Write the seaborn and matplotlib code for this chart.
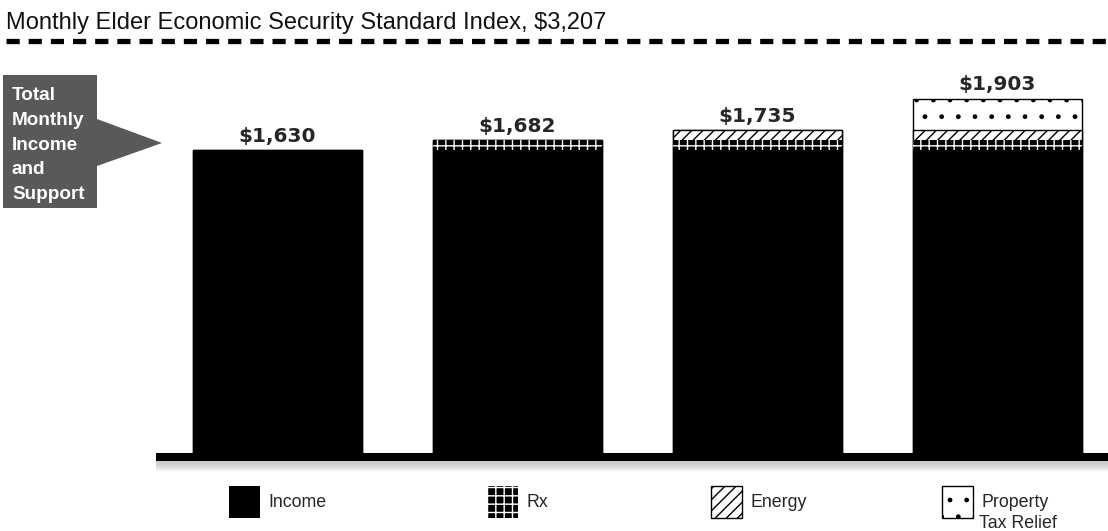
import numpy as np
import pandas as pd
import matplotlib.pyplot as plt
import matplotlib.patheffects as pe
import seaborn as sns
from matplotlib.patches import Patch, Polygon

# 데이터
scenarios = ['Income only', '+ Rx', '+ Energy', '+ Property Tax Relief']
income = [1630, 1630, 1630, 1630]
rx = [0, 52, 52, 52]
energy = [0, 0, 53, 53]
property_tax = [0, 0, 0, 168]
total_labels = ['$1,630', '$1,682', '$1,735', '$1,903']
legend_labels = ['Income', 'Rx', 'Energy', 'Property']
title = 'Monthly Elder Economic Security Standard Index, $3,207'
callout = 'Total\nMonthly\nIncome\nand\nSupport'

sns.set_style('white')
plt.rcParams['font.family'] = ['Liberation Sans', 'DejaVu Sans']
plt.rcParams['hatch.linewidth'] = 1.0

W, H = 1108, 531
fig = plt.figure(figsize=(W / 100, H / 100), dpi=100)
ax = fig.add_axes([156 / W, 1 - 457 / H, 952 / W, 397 / H])

# 누적 막대 (위 레이어부터 그리고 아래 레이어로 덮기)
layers = pd.DataFrame({'Income': income, 'Rx': rx, 'Energy': energy,
                       'Property': property_tax}, index=scenarios)
cum = layers.cumsum(axis=1)
styles = {
    'Property': dict(color='white', edgecolor='black', hatch='.', linewidth=1),
    'Energy': dict(color='white', edgecolor='black', hatch='///', linewidth=1),
    'Rx': dict(color='black', edgecolor='white', hatch='++', linewidth=0),
    'Income': dict(color='black', edgecolor='black', linewidth=0),
}
for name in ['Property', 'Energy', 'Rx', 'Income']:
    sns.barplot(x=scenarios, y=cum[name].values, width=0.704, saturation=1,
                errorbar=None, ax=ax, **styles[name])

ax.set_xlim(-0.50625, -0.50625 + 952 / 240)
ax.set_ylim(0, 397 / 0.18834)
ax.set_xticks([])
ax.set_yticks([])
ax.set_xlabel('')
ax.set_ylabel('')
sns.despine(ax=ax, left=True, bottom=True)

# 바닥선 + 그림자
shadow = [pe.SimpleLineShadow(offset=(0, -k), shadow_color='0.55', alpha=0.12)
          for k in (1.5, 3, 4.5, 6, 7.5)]
ax.axhline(0, color='black', lw=5.8, clip_on=False, solid_capstyle='butt',
           path_effects=shadow + [pe.Normal()])

# 합계 라벨
totals = cum['Property'].values
for i, (t, lab) in enumerate(zip(totals, total_labels)):
    ax.annotate(lab, xy=(i, t), xytext=(0, 6), textcoords='offset points',
                ha='center', va='baseline', fontsize=14.5, fontweight='bold',
                family='DejaVu Sans')

# 제목 + 점선
fig.text(6 / W, 1 - 29 / H, title, fontsize=17, va='baseline', color='#111111')
fig.add_artist(plt.Line2D([6 / W, 1], [1 - 41 / H] * 2, transform=fig.transFigure,
                          color='black', lw=3.8, linestyle=(0, (2.5, 1.7))))

# 왼쪽 말풍선
pts = [(3, 75), (97, 75), (97, 119), (162, 143), (97, 166), (97, 208), (3, 208)]
fig.add_artist(Polygon([(x / W, 1 - y / H) for x, y in pts], closed=True,
                       transform=fig.transFigure, facecolor='#58595b', edgecolor='none'))
fig.text(12 / W, 1 - 87 / H, callout, color='white', fontsize=13.6, fontweight='bold',
         va='top', ha='left', linespacing=1.6)

# 범례
handles = [
    Patch(facecolor='black', edgecolor='black', lw=0),
    Patch(facecolor='black', edgecolor='white', hatch='++', lw=0),
    Patch(facecolor='white', edgecolor='black', hatch='///', lw=1),
    Patch(facecolor='white', edgecolor='black', hatch='.', lw=1),
]
xs = [229, 487, 711, 942]
for h, lab, x in zip(handles, legend_labels, xs):
    fig.legend(handles=[h], labels=[lab], loc='center left', frameon=False,
               bbox_to_anchor=(x / W, 1 - 502 / H), borderpad=0, borderaxespad=0,
               fontsize=12.8, handlelength=1.75, handleheight=2.45, handletextpad=0.45)
fig.text(979 / W, 1 - 524 / H, 'Tax Relief', fontsize=12.8, va='center')

fig.savefig('out.png', dpi=100)
